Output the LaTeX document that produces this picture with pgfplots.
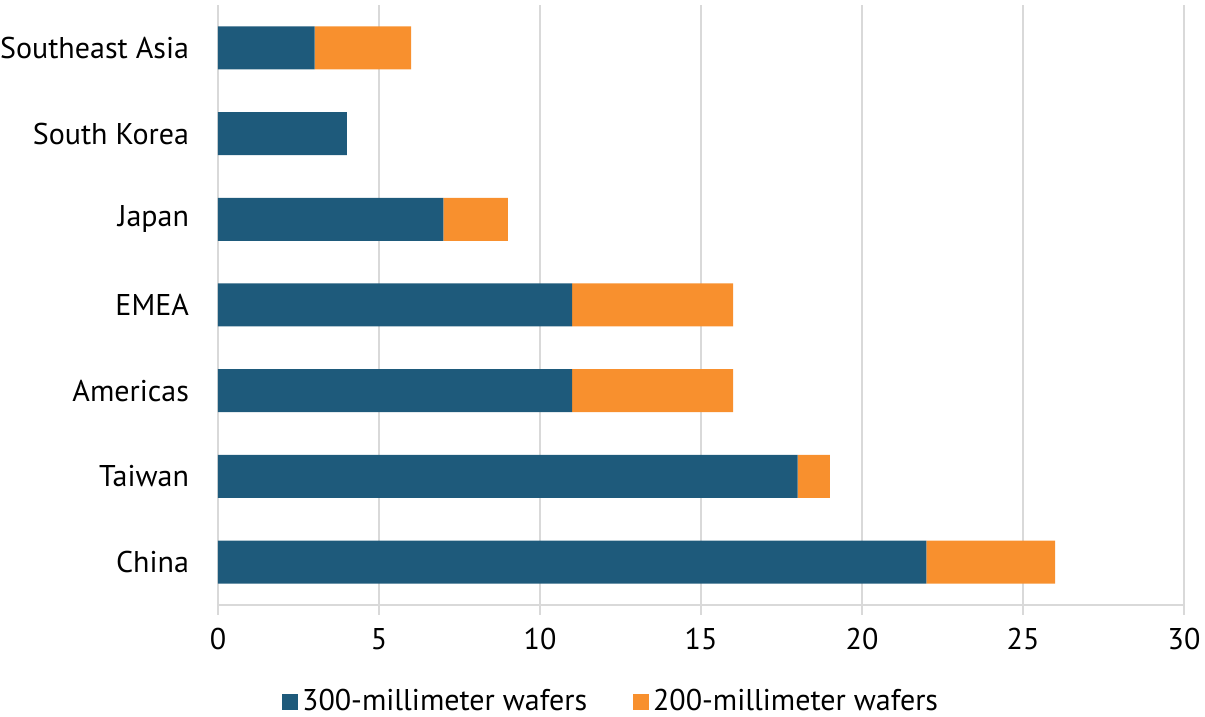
\documentclass[border=0pt]{standalone}
\usepackage{pgfplots}
\pgfplotsset{compat=1.18}
\usepackage{fontspec}
\setmainfont{PT Sans}
\definecolor{cblue}{HTML}{1E5A7B}
\definecolor{corange}{HTML}{F8902E}
\definecolor{gridc}{HTML}{D9D9D9}
\begin{document}
\begin{tikzpicture}
\begin{axis}[
  name=ax,
  scale only axis, width=483pt, height=300pt,
  xbar stacked, bar width=21.5pt,
  xmin=0, xmax=30, ymin=-0.5, ymax=6.5,
  xtick={0,5,...,30},
  ytick={0,...,6},
  yticklabels={China,Taiwan,Americas,EMEA,Japan,South Korea,Southeast Asia},
  axis x line=bottom, axis y line=left,
  x axis line style={-, gridc, line width=1pt},
  y axis line style={draw=none},
  xtick style={gridc, line width=1pt},
  ytick style={draw=none},
  tick align=outside, major tick length=5pt,
  xmajorgrids, grid style={gridc, line width=1pt},
  tick label style={font=\fontsize{15}{18}\selectfont, text=black},
  /pgf/number format/assume math mode=true,
  xticklabel style={yshift=-3pt},
  yticklabel style={xshift=-6pt},
  legend style={at={(0.408,-0.127)}, anchor=north, draw=none, legend columns=2,
    font=\fontsize{15}{18}\selectfont,
    /tikz/every even column/.append style={column sep=21pt}},
  legend image code/.code={\fill[#1] (0pt,-4pt) rectangle (8pt,4pt);},
]
\addplot[fill=cblue, draw=none] coordinates {(22,0) (18,1) (11,2) (11,3) (7,4) (4,5) (3,6)};
\addplot[fill=corange, draw=none] coordinates {(4,0) (1,1) (5,2) (5,3) (2,4) (0,5) (3,6)};
\legend{300-millimeter wafers, 200-millimeter wafers}
\end{axis}
\pgfresetboundingbox
\path ([xshift=-109pt,yshift=-56pt]ax.south west) rectangle ([xshift=10.5pt,yshift=2.5pt]ax.north east);
\end{tikzpicture}
\end{document}
